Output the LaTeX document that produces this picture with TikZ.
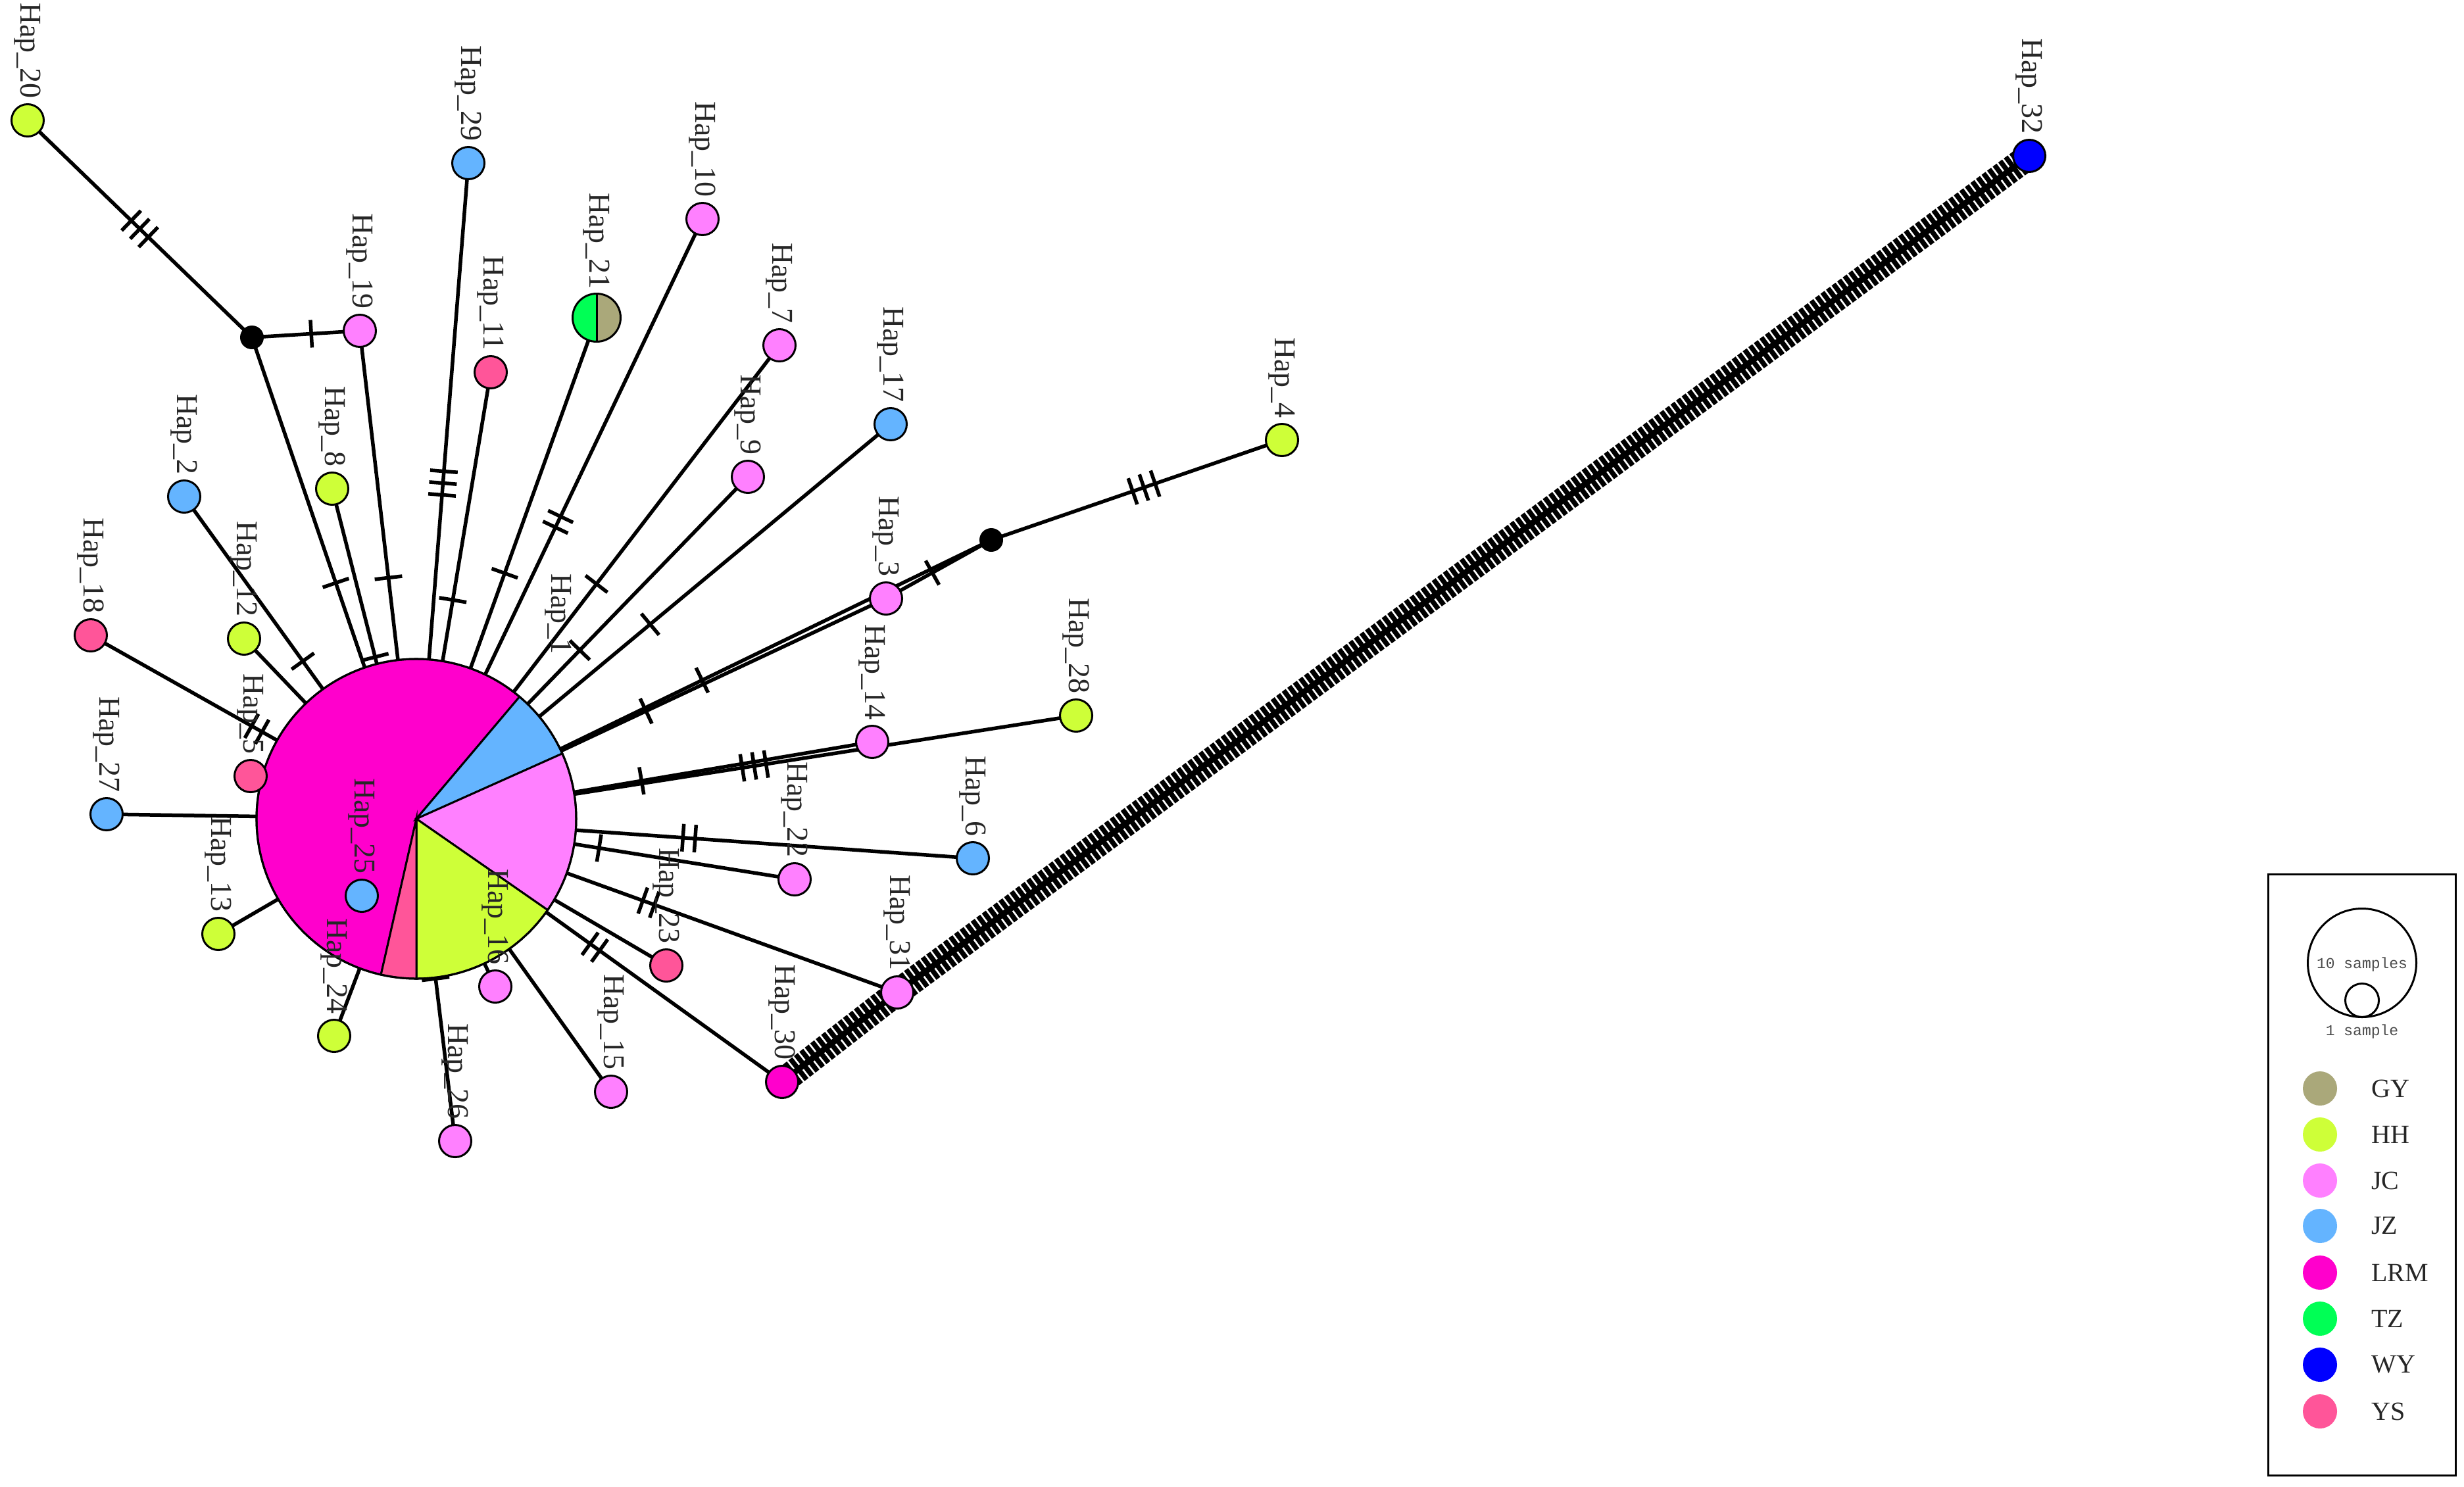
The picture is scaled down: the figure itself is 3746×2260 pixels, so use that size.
\documentclass[tikz,border=0pt]{standalone}
\usepackage{fontspec}
\setmainfont{Liberation Serif}
\newfontfamily\legmono{Liberation Mono}
\usetikzlibrary{decorations.pathreplacing}
\definecolor{GY}{RGB}{170,168,122}
\definecolor{HH}{RGB}{206,255,56}
\definecolor{JC}{RGB}{255,128,255}
\definecolor{JZ}{RGB}{100,180,255}
\definecolor{LRM}{RGB}{255,0,204}
\definecolor{TZ}{RGB}{0,255,85}
\definecolor{WY}{RGB}{0,0,255}
\definecolor{YS}{RGB}{255,85,153}
\begin{document}
\begin{tikzpicture}[x=1pt,y=-1pt,
 hap/.style={circle, draw=black, line width=3pt, minimum size=49pt, inner sep=0pt},
 med/.style={circle, fill=black, minimum size=36pt, inner sep=0pt},
 edge/.style={line width=5.5pt},
 tk/.style={sloped, fill=black, inner sep=0pt, minimum width=5.5pt, minimum height=42pt, shape=rectangle},
 lab/.style={rotate=-90, anchor=east, inner sep=0pt, text=black!85, font=\fontsize{46}{50}\selectfont},
 comb/.style={line width=7.5pt, decorate, decoration={ticks, segment length=10.5pt, amplitude=20pt}},
 legtxt/.style={anchor=west, inner sep=0pt, text=black!85, font=\fontsize{40}{44}\selectfont},
 legsmall/.style={inner sep=0pt, text=black!70, font=\legmono\fontsize{23}{25}\selectfont},
 legdot/.style={circle, minimum size=52pt, inner sep=0pt}
]
\fill[white] (0,0) rectangle (3746,2260);
\useasboundingbox (0,0) rectangle (3746,2260);

% node positions
\node[circle, minimum size=486pt, inner sep=0pt] (h1) at (633,1245) {};
\node[med] (v1) at (383,513) {};
\node[med] (v2) at (1507,821) {};
\node[circle, minimum size=73pt, inner sep=0pt] (h21) at (907,483) {};
\coordinate (p20) at (42,183);
\coordinate (p19) at (547,503);
\coordinate (p29) at (712,248);
\coordinate (p11) at (746,566);
\coordinate (p10) at (1068,333);
\coordinate (p7) at (1185,525);
\coordinate (p9) at (1137,725);
\coordinate (p17) at (1354,645);
\coordinate (p8) at (505,743);
\coordinate (p2) at (280,755);
\coordinate (p12) at (371,971);
\coordinate (p18) at (138,966);
\coordinate (p5) at (381,1180);
\coordinate (p27) at (162,1238);
\coordinate (p13) at (332,1420);
\coordinate (p25) at (550,1362);
\coordinate (p24) at (508,1575);
\coordinate (p16) at (753,1500);
\coordinate (p26) at (692,1735);
\coordinate (p15) at (929,1660);
\coordinate (p30) at (1189,1645);
\coordinate (p31) at (1364,1509);
\coordinate (p23) at (1013,1468);
\coordinate (p22) at (1208,1337);
\coordinate (p6) at (1479,1305);
\coordinate (p14) at (1326,1128);
\coordinate (p28) at (1636,1088);
\coordinate (p3) at (1347,910);
\coordinate (p4) at (1949,669);
\coordinate (p32) at (3085,237);

% edges
\draw[edge] (v1.center) -- (p20) node[tk,pos=0.462]{} node[tk,pos=0.5]{} node[tk,pos=0.538]{};
\draw[edge] (v1.center) -- (p19) node[tk,pos=0.55]{};
\draw[edge] (h1.center) -- (v1.center) node[tk,pos=0.49]{};
\draw[edge] (h1.center) -- (p8) node[tk,pos=0.49]{};
\draw[edge] (h1.center) -- (p19) node[tk,pos=0.494]{};
\draw[edge] (h1.center) -- (p29) node[tk,pos=0.494]{} node[tk,pos=0.512]{} node[tk,pos=0.53]{};
\draw[edge] (h1.center) -- (p11) node[tk,pos=0.49]{};
\draw[edge] (h1.center) -- (h21.center) node[tk,pos=0.49]{};
\draw[edge] (h1.center) -- (p10) node[tk,pos=0.486]{} node[tk,pos=0.504]{};
\draw[edge] (h1.center) -- (p7) node[tk,pos=0.496]{};
\draw[edge] (h1.center) -- (p9) node[tk,pos=0.493]{};
\draw[edge] (h1.center) -- (p17) node[tk,pos=0.493]{};
\draw[edge] (h1.center) -- (p3) node[tk,pos=0.489]{};
\draw[edge] (h1.center) -- (v2.center) node[tk,pos=0.497]{};
\draw[edge] (p3) -- (v2.center) node[tk,pos=0.44]{};
\draw[edge] (v2.center) -- (p4) node[tk,pos=0.4865]{} node[tk,pos=0.525]{} node[tk,pos=0.5635]{};
\draw[edge] (h1.center) -- (p14) node[tk,pos=0.494]{};
\draw[edge] (h1.center) -- (p28) node[tk,pos=0.494]{} node[tk,pos=0.512]{} node[tk,pos=0.53]{};
\draw[edge] (h1.center) -- (p6) node[tk,pos=0.479]{} node[tk,pos=0.501]{};
\draw[edge] (h1.center) -- (p22) node[tk,pos=0.483]{};
\draw[edge] (h1.center) -- (p31) node[tk,pos=0.471]{} node[tk,pos=0.495]{};
\draw[edge] (h1.center) -- (p30) node[tk,pos=0.475]{} node[tk,pos=0.501]{};
\draw[edge] (h1.center) -- (p15) node[tk,pos=0.472]{};
\draw[edge] (h1.center) -- (p26) node[tk,pos=0.496]{};
\draw[edge] (h1.center) -- (p18) node[tk,pos=0.474]{} node[tk,pos=0.506]{};
\draw[edge] (h1.center) -- (p2) node[tk,pos=0.489]{};
\draw[edge] (h1.center) -- (p23);
\draw[edge] (h1.center) -- (p24);
\draw[edge] (h1.center) -- (p13);
\draw[edge] (h1.center) -- (p27);
\draw[edge] (h1.center) -- (p5);
\draw[edge] (h1.center) -- (p12);
\draw[edge] (h1.center) -- (p16);
\draw[edge] (h1.center) -- (p25);
\draw[line width=9pt] (p30) -- (p31) -- (p32);
\draw[comb] (p30) -- (p31);
\draw[comb] (p31) -- (p32);

% central pie Hap_1
\filldraw[fill=LRM, line width=3pt] (h1.center) -- ++(102.8:243) arc[start angle=102.8, end angle=310.2, radius=243] -- cycle;
\filldraw[fill=JZ, line width=3pt] (h1.center) -- ++(-49.8:243) arc[start angle=-49.8, end angle=-24.1, radius=243] -- cycle;
\filldraw[fill=JC, line width=3pt] (h1.center) -- ++(-24.1:243) arc[start angle=-24.1, end angle=34.8, radius=243] -- cycle;
\filldraw[fill=HH, line width=3pt] (h1.center) -- ++(34.8:243) arc[start angle=34.8, end angle=90, radius=243] -- cycle;
\filldraw[fill=YS, line width=3pt] (h1.center) -- ++(90:243) arc[start angle=90, end angle=102.8, radius=243] -- cycle;
\draw[line width=3pt] (h1.center) circle[radius=243];

% Hap_21 pie
\fill[TZ] (h21.center) -- ++(90:36.5) arc[start angle=90, end angle=270, radius=36.5] -- cycle;
\fill[GY] (h21.center) -- ++(-90:36.5) arc[start angle=-90, end angle=90, radius=36.5] -- cycle;
\draw[line width=3pt] (h21.center) circle[radius=36.5];
\draw[line width=3pt] (h21.north) -- (h21.south);

% haplotype circles
\node[hap, fill=HH] (h20) at (p20) {};
\node[hap, fill=JC] (h19) at (p19) {};
\node[hap, fill=JZ] (h29) at (p29) {};
\node[hap, fill=YS] (h11) at (p11) {};
\node[hap, fill=JC] (h10) at (p10) {};
\node[hap, fill=JC] (h7) at (p7) {};
\node[hap, fill=JC] (h9) at (p9) {};
\node[hap, fill=JZ] (h17) at (p17) {};
\node[hap, fill=HH] (h8) at (p8) {};
\node[hap, fill=JZ] (h2) at (p2) {};
\node[hap, fill=HH] (h12) at (p12) {};
\node[hap, fill=YS] (h18) at (p18) {};
\node[hap, fill=YS] (h5) at (p5) {};
\node[hap, fill=JZ] (h27) at (p27) {};
\node[hap, fill=HH] (h13) at (p13) {};
\node[hap, fill=JZ] (h25) at (p25) {};
\node[hap, fill=HH] (h24) at (p24) {};
\node[hap, fill=JC] (h16) at (p16) {};
\node[hap, fill=JC] (h26) at (p26) {};
\node[hap, fill=JC] (h15) at (p15) {};
\node[hap, fill=LRM] (h30) at (p30) {};
\node[hap, fill=JC] (h31) at (p31) {};
\node[hap, fill=YS] (h23) at (p23) {};
\node[hap, fill=JC] (h22) at (p22) {};
\node[hap, fill=JZ] (h6) at (p6) {};
\node[hap, fill=JC] (h14) at (p14) {};
\node[hap, fill=HH] (h28) at (p28) {};
\node[hap, fill=JC] (h3) at (p3) {};
\node[hap, fill=HH] (h4) at (p4) {};
\node[hap, fill=WY] (h32) at (p32) {};

% labels
\node[lab] (l1) at (849,995) {Hap\_1};
\foreach \n in {2,3,4,5,6,7,8,9,10,11,12,13,14,15,16,17,18,19,20,21,22,23,24,25,26,27,28,29,30,31,32}{
  \node[lab] (l\n) at ([yshift=7pt]h\n.north) {Hap\_\n};
}

% legend
\draw[line width=3pt] (3448,1329) rectangle (3733,2243);
\node[circle, draw=black, line width=3pt, minimum size=165pt, inner sep=0pt] (lg10) at (3591,1464) {};
\node[circle, draw=black, line width=3pt, minimum size=51pt, inner sep=0pt] (lg1) at (3591,1521) {};
\node[legsmall] (lt10) at (3591,1467) {10 samples};
\node[legsmall] (lt1) at (3591,1569) {1 sample};
\foreach \c/\y in {GY/1655,HH/1725,JC/1795,JZ/1864,LRM/1935,TZ/2005,WY/2075,YS/2146}{
  \node[legdot, fill=\c] (d\c) at (3527,\y) {};
  \node[legtxt] (t\c) at (3605,\y) {\c};
}
\end{tikzpicture}
\end{document}
